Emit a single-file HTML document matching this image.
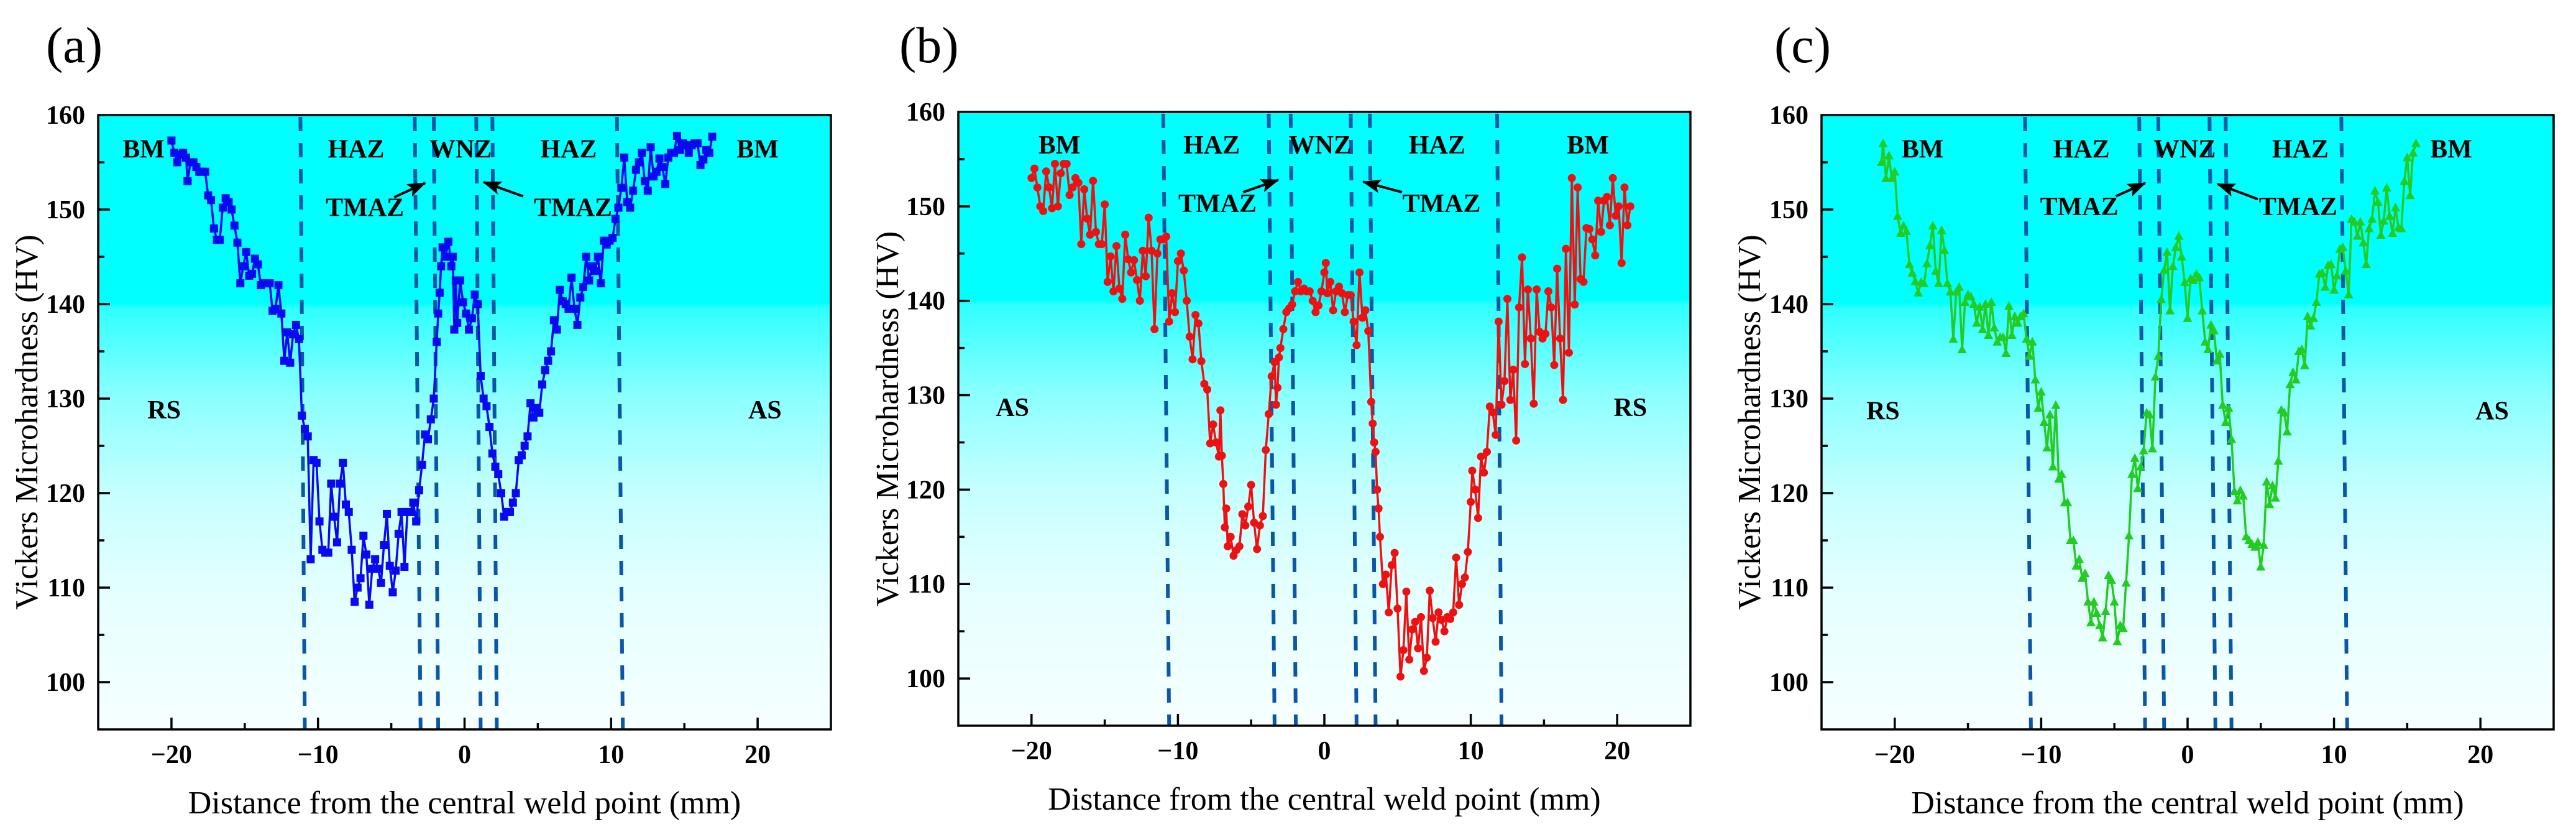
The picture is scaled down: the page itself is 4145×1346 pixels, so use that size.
<!DOCTYPE html>
<html><head><meta charset="utf-8">
<style>
html,body{margin:0;padding:0;background:#fff;}
svg{display:block;}
text{font-family:"Liberation Serif",serif;}
.tk{font-size:42px;font-weight:bold;}
.ann{font-size:42px;font-weight:bold;}
.ttl{font-size:52px;}
.pl{font-size:82px;}
</style></head>
<body>
<svg id="fig" width="4145" height="1346" viewBox="0 0 4145 1346" xmlns="http://www.w3.org/2000/svg">
<defs>
<linearGradient id="bg" x1="0" y1="0" x2="0" y2="1">
<stop offset="0" stop-color="#00ffff"/>
<stop offset="0.305" stop-color="#00ffff"/>
<stop offset="0.315" stop-color="#30ffff"/>
<stop offset="0.46" stop-color="#8cffff"/>
<stop offset="0.615" stop-color="#c6ffff"/>
<stop offset="0.77" stop-color="#e4ffff"/>
<stop offset="1" stop-color="#f7ffff"/>
</linearGradient>
<marker id="ah" markerWidth="30" markerHeight="22" refX="28" refY="11" orient="auto" markerUnits="userSpaceOnUse" viewBox="0 0 30 22">
<path d="M0,0 L30,11 L0,22 L6,11 z" fill="#000"/>
</marker>
</defs>
</svg>
<script>
// ---- data ----
const xTicks = [-20,-10,0,10,20];
const yTicks = [100,110,120,130,140,150,160];
const xA = [-20,-19.8,-19.6,-19.4,-19.2,-19,-18.9,-18.7,-18.5,-18.3,-18.1,-17.9,-17.7,-17.5,-17.3,-17.1,-16.9,-16.7,-16.5,-16.3,-16.1,-15.9,-15.7,-15.5,-15.3,-15.1,-14.9,-14.7,-14.5,-14.3,-14.1,-13.9,-13.7,-13.5,-13.3,-13.1,-12.9,-12.7,-12.5,-12.3,-12.1,-11.9,-11.7,-11.5,-11.3,-11.1,-10.9,-10.7,-10.5,-10.3,-10.1,-9.9,-9.7,-9.5,-9.3,-9.1,-8.9,-8.7,-8.5,-8.3,-8.1,-7.9,-7.7,-7.5,-7.3,-7.1,-6.9,-6.7,-6.5,-6.3,-6.1,-5.9,-5.7,-5.5,-5.3,-5.1,-4.9,-4.7,-4.5,-4.3,-4.1,-3.9,-3.7,-3.5,-3.3,-3.1,-2.9,-2.7,-2.5,-2.3,-2.1,-1.9,-1.8,-1.7,-1.6,-1.5,-1.3,-1.1,-0.9,-0.8,-0.7,-0.6,-0.5,-0.3,-0.1,0.1,0.3,0.5,0.7,0.9,1.1,1.3,1.5,1.7,1.9,2.1,2.3,2.5,2.7,2.9,3.1,3.3,3.5,3.7,3.9,4.1,4.3,4.5,4.7,4.9,5.1,5.3,5.5,5.7,5.9,6.1,6.3,6.5,6.7,6.9,7.1,7.3,7.5,7.7,7.9,8.1,8.3,8.5,8.7,8.9,9.1,9.3,9.5,9.7,9.9,10.1,10.3,10.5,10.7,10.9,11.1,11.3,11.5,11.7,11.9,12.1,12.3,12.5,12.7,12.9,13.1,13.3,13.5,13.7,13.9,14.1,14.3,14.5,14.7,14.9,15.1,15.3,15.5,15.7,15.9,16.1,16.3,16.5,16.7,16.9];
const yA = [157.3,156,155,155.8,156,155.5,153,155,155,154.5,154,154,154,151.5,151,148,146.8,146.8,150.2,151.2,150.8,150,148.3,146.5,142.2,144,145.5,143,143.2,144.8,144.2,142,142.2,142.2,142.2,139.3,139.5,142,139,134,137,133.8,136.8,137.8,136.3,128.2,126.8,126,113,123.5,123.2,117,114,113.7,113.7,121,117.5,114.8,121,123.2,118.8,118,114,108.5,110,111,115.5,113.5,108.2,112,113,112,110.5,114.5,117.8,112.3,109.5,111.8,115.7,118,112.2,118,118,119,117,120.3,123,126.2,125.7,127.8,130,136,139,141.2,144,146,145,146.6,144,145,137.3,142.5,138,142.5,140.2,139,137.3,138.5,141,140,132.4,130,129.2,127,124.2,122.8,122,120,117.5,118,118,119,120,123.5,124,125,126,129.5,128,129,128.5,131.5,133,134,135,138.3,137.3,141.5,140.3,140,139.5,142.8,139.5,137.8,140.7,141.8,145,142.5,144,143.5,145,142.2,146.7,146.3,146.7,147,149,150.2,152.3,155.5,150.8,150.2,152,154.2,155,156,153,152,156.6,153.5,154,155.4,154.5,152.7,155.5,156,156,157.8,156.3,157,156.8,156,156.8,157,157,154.7,155.3,156.3,156,157.7];
const xB = [-20,-19.8,-19.6,-19.4,-19.2,-19,-18.8,-18.6,-18.4,-18.2,-18,-17.8,-17.6,-17.4,-17.2,-17,-16.8,-16.6,-16.4,-16.2,-16,-15.8,-15.6,-15.4,-15.2,-15,-14.8,-14.6,-14.4,-14.2,-14,-13.8,-13.6,-13.4,-13.2,-13,-12.8,-12.6,-12.4,-12.2,-12,-11.8,-11.6,-11.4,-11.2,-11,-10.8,-10.6,-10.4,-10.2,-10,-9.8,-9.6,-9.4,-9.2,-9,-8.8,-8.6,-8.4,-8.2,-8,-7.8,-7.6,-7.4,-7.2,-7.1,-7,-6.9,-6.8,-6.7,-6.6,-6.4,-6.2,-6,-5.8,-5.6,-5.4,-5.2,-5,-4.8,-4.6,-4.4,-4.2,-4,-3.8,-3.6,-3.4,-3.3,-3.2,-3.1,-3,-2.8,-2.6,-2.4,-2.2,-2,-1.8,-1.6,-1.4,-1.2,-1,-0.8,-0.6,-0.4,-0.2,0,0.1,0.2,0.4,0.6,0.8,1,1.2,1.4,1.6,1.8,2,2.2,2.4,2.6,2.8,3,3.2,3.3,3.4,3.5,3.6,3.7,3.8,4,4.2,4.4,4.6,4.8,5,5.2,5.4,5.6,5.8,6,6.2,6.4,6.6,6.8,7,7.2,7.4,7.6,7.8,8,8.2,8.4,8.6,8.8,9,9.2,9.4,9.6,9.8,10,10.1,10.3,10.5,10.7,10.9,11.1,11.3,11.5,11.7,11.9,12.1,12.3,12.5,12.7,12.9,13.1,13.3,13.5,13.7,13.9,14.1,14.3,14.5,14.7,14.9,15.1,15.3,15.5,15.7,15.9,16.1,16.3,16.5,16.7,16.9,17.1,17.3,17.5,17.7,17.9,18.1,18.3,18.5,18.7,18.9,19.1,19.3,19.5,19.7,19.9,20.1,20.3,20.5,20.7,20.9];
const yB = [153,154,152,150,149.5,153.7,152,149.8,154.5,150,153.5,154.5,154.5,151.2,152,153,152.5,146,151.8,148.7,147,152.7,147.3,146,146,150.2,142,144.7,141,145.8,141.3,140.2,147,144.4,143,144.3,142.2,140,145.3,142.6,148.8,145.3,137,145,146.5,146.5,146.8,137.8,140.8,138.8,144.2,145,143.2,140,136.2,133.8,138.5,137.6,133.6,131.2,130.6,124.9,126.9,125,123.5,128.4,123.6,120.6,116,118,114,115,113,113.6,114,117.4,116.2,118.2,120.5,116.5,113.7,116.2,117.2,124.2,128,132,133.5,129,130.8,134,135,137,138.8,139.2,139.6,141,142,141,141.3,141,141,140,138.8,139.5,141,143,144,140.8,142,139,141,141.5,140.8,138.8,140.6,140.6,137.8,135.3,143,138.2,139,136.8,129.3,127,125,124,120,118,115,110,111,107,112,113.3,107.4,100.2,103,109.2,102,105.2,106,103.2,106.5,100.8,102.2,109.3,106.4,103.9,107,106.2,105,106.5,106.3,107,112.8,107.8,110,110.7,113.4,118.7,122,120,117,123.5,121.8,124,128.8,128.2,125.8,137.8,129,131.5,140.2,129.5,132.7,125.2,139.3,144.6,133.3,141.2,136,129.1,141.2,136.7,136,136.5,141,139.3,133.2,143.4,136,129.5,145.5,134.5,153,139.6,152,142.3,142,147.7,147.6,146.5,144.8,150.6,147.3,150.6,151,148,153,149,150,144,152,148,150];
const xC = [-20.9,-20.8,-20.6,-20.4,-20.2,-20,-19.8,-19.6,-19.4,-19.2,-19,-18.8,-18.6,-18.4,-18.2,-18,-17.8,-17.6,-17.4,-17.2,-17,-16.8,-16.6,-16.4,-16.2,-16,-15.8,-15.6,-15.4,-15.2,-15,-14.8,-14.6,-14.4,-14.2,-14,-13.8,-13.6,-13.4,-13.2,-13,-12.8,-12.6,-12.4,-12.2,-12,-11.8,-11.6,-11.4,-11.2,-11,-10.8,-10.6,-10.4,-10.2,-10,-9.8,-9.6,-9.4,-9.2,-9,-8.8,-8.6,-8.4,-8.2,-8,-7.8,-7.6,-7.4,-7.2,-7,-6.8,-6.6,-6.4,-6.2,-6,-5.8,-5.6,-5.4,-5.2,-5,-4.8,-4.6,-4.4,-4.2,-4,-3.8,-3.6,-3.4,-3.2,-3,-2.8,-2.6,-2.4,-2.2,-2,-1.8,-1.6,-1.4,-1.2,-1,-0.8,-0.6,-0.4,-0.2,0,0.2,0.4,0.6,0.8,1,1.2,1.4,1.6,1.8,2,2.2,2.4,2.6,2.8,3,3.2,3.4,3.6,3.8,4,4.2,4.4,4.6,4.8,5,5.2,5.4,5.6,5.8,6,6.2,6.4,6.6,6.8,7,7.2,7.4,7.6,7.8,8,8.2,8.4,8.6,8.8,9,9.2,9.4,9.6,9.8,10,10.2,10.4,10.6,10.8,11,11.2,11.4,11.6,11.8,12,12.2,12.4,12.6,12.8,13,13.2,13.4,13.6,13.8,14,14.2,14.4,14.6,14.8,15,15.2,15.4,15.6];
const yC = [155,157,153.3,155.7,153.3,154,149.3,147.5,148.3,147.7,144.2,143.3,142.4,141.2,142.3,142.2,144.3,146.2,148.3,143.5,142.2,147.8,145.7,142.2,141.3,136.3,141.3,141.8,135.2,140.2,141,140.8,140,138,139.7,137.3,140,136.7,140.2,137.5,136,136.5,136.5,134.8,139.8,136.7,138.7,138,138.7,139,136.3,134.5,136,132,129,130.7,127.5,124.8,128.3,122.8,129.3,121.5,122,119,119,115,115,112.3,113,111,111.5,108.5,106.3,108.5,107.3,106,104.7,107.5,111.3,110.8,108.5,104.3,106,105.7,110.5,115.5,122,123.7,120.5,122.8,124.5,128.5,128.3,124.7,132.3,134.5,140.5,143.6,145.5,139.3,144,146,147.2,145,142.3,138.5,142.7,142.5,143.2,142.8,139.3,136,135.2,137.8,137.2,134,134.7,129.3,127.5,129,125.7,120.2,119.2,120.3,119.7,115.4,115,114.6,114.3,114.8,112.2,114.5,121.2,118.8,120.8,119.5,123.4,128.8,128.5,126.5,131.5,132.8,132,135,135.2,133.5,138.7,137.7,138.5,140.2,143.2,143.3,141.8,144.1,144.2,141.5,143,145.8,146,143.5,141,149,148.7,147.2,148.7,146.5,144.2,148,149,152,150.8,147.3,148.8,152.3,149.3,147.5,150.2,148.1,148,153,155.5,151.5,156,157];
// zone boundaries (top x, bottom x) in mm
const zonesATop = [-11.2,-3.4,-2.1,0.8,1.9,10.4];
const zonesABot = [-10.9,-3.0,-1.8,1.1,2.2,10.8];
const zonesBTop = [-11.0,-3.8,-2.3,1.8,3.1,11.8];
const zonesBBot = [-10.6,-3.4,-1.95,2.2,3.5,12.1];
const zonesCTop = [-11.1,-3.3,-2.0,1.5,2.6,10.5];
const zonesCBot = [-10.7,-2.9,-1.6,1.9,3.0,10.9];

// ---- drawing ----
const NS = "http://www.w3.org/2000/svg";
const svg = document.getElementById('fig');
function mk(tag, attrs, parent){
  const e = document.createElementNS(NS, tag);
  for (const k in attrs) e.setAttribute(k, attrs[k]);
  (parent||svg).appendChild(e);
  return e;
}
function txt(str, attrs, parent){ const t = mk('text', attrs, parent); t.textContent = str; return t; }

function panel(p){
  const g = mk('g', {});
  
  
  const L=p.left, R=p.right, T=p.top, B=p.bottom;
  const sx = v => L + (v + 25) / 50 * (R - L);
  const sy = v => B - (v - 95) / 65 * (B - T);
  const bg = mk('rect', {x:L, y:T, width:R-L, height:B-T, fill:'url(#bg)'}, g);
  
  
  for (let i=0;i<p.zt.length;i++){
    const ln = mk('line', {x1:sx(p.zt[i]), y1:T+3, x2:sx(p.zb[i]), y2:B, stroke:'#0a57a6', 'stroke-width':6, 'stroke-dasharray':'23 19'}, g);
    
    
  }
  const pts = p.xs.map((x,i)=> sx(x).toFixed(1)+','+sy(p.ys[i]).toFixed(1)).join(' ');
  const pl = mk('polyline', {points:pts, fill:'none', stroke:p.color, 'stroke-width':3.5, 'stroke-linejoin':'round'}, g);
  
  
  p.xs.forEach((x,i)=>{
    const cx = sx(x), cy = sy(p.ys[i]);
    let m;
    if (p.marker==='square') m = mk('rect', {x:cx-6.5, y:cy-6.5, width:13, height:13, fill:p.color}, g);
    else if (p.marker==='circle') m = mk('circle', {cx:cx, cy:cy, r:6.5, fill:p.color}, g);
    else m = mk('polygon', {points:`${cx},${cy-8} ${cx-7.5},${cy+6} ${cx+7.5},${cy+6}`, fill:p.color}, g);
    
    
  });
  p.ann.forEach(a=>{
    const t = txt(a[0], {x:sx(a[1]), y:sy(a[2]), class:'ann', 'text-anchor':'middle'}, g);
    
    
  });
  p.arrows.forEach(a=>{
    const ar = mk('line', {x1:sx(a[0]), y1:sy(a[1]), x2:sx(a[2]), y2:sy(a[3]), stroke:'#000', 'stroke-width':4, 'marker-end':'url(#ah)'}, g);
    
    
  });
  const fr = mk('rect', {x:L, y:T, width:R-L, height:B-T, fill:'none', stroke:'#000', 'stroke-width':3.5}, g);
  
  
  for (let v=-25; v<=25; v+=5){
    const major = v%10===0;
    if (v===-25||v===25) continue;
    mk('line', {x1:sx(v), y1:B, x2:sx(v), y2:B-(major?19:10), stroke:'#000', 'stroke-width':3.5}, g);
  }
  xTicks.forEach(v=>{
    const t = txt(v<0?'\u2212'+Math.abs(v):String(v), {x:sx(v), y:B+54, class:'tk', 'text-anchor':'middle'}, g);
    
    
  });
  for (let v=100; v<160; v+=5){
    const major = v%10===0;
    mk('line', {x1:L, y1:sy(v), x2:L+(major?19:10), y2:sy(v), stroke:'#000', 'stroke-width':3.5}, g);
  }
  yTicks.forEach(v=>{
    const t = txt(String(v), {x:L-21, y:sy(v)+14, class:'tk', 'text-anchor':'end'}, g);
    
    
  });
  const xt = txt('Distance from the central weld point (mm)', {x:(L+R)/2, y:B+135, class:'ttl', 'text-anchor':'middle'}, g);
  
  
  const cy = (T+B)/2;
  const yt = txt('Vickers Microhardness (HV)', {x:p.ytx, y:cy, class:'ttl', 'text-anchor':'middle', transform:`rotate(-90 ${p.ytx} ${cy})`}, g);
  
  
  const lb = txt('('+p.id+')', {x:p.lx, y:100, class:'pl'}, g);
  
  
}

panel({id:'a', left:158, right:1337, top:185, bottom:1173, ytx:60, lx:74, color:'#0a0af0', marker:'square',
  xs:xA, ys:yA, zt:zonesATop, zb:zonesABot,
  ann:[['BM',-21.9,155.5],['HAZ',-7.4,155.5],['WNZ',-0.27,155.5],['HAZ',7.1,155.5],['BM',20.0,155.5],['TMAZ',-6.8,149.3],['TMAZ',7.4,149.3],['RS',-20.5,127.9],['AS',20.5,127.9]],
  arrows:[[-4.8,151.3,-2.7,152.8],[4.0,151.4,1.3,152.9]]});
panel({id:'b', left:1542, right:2720, top:180, bottom:1167, ytx:1445, lx:1447, color:'#ee1111', marker:'circle',
  xs:xB, ys:yB, zt:zonesBTop, zb:zonesBBot,
  ann:[['BM',-18.1,155.6],['HAZ',-7.7,155.6],['WNZ',-0.3,155.6],['HAZ',7.7,155.6],['BM',18.0,155.6],['TMAZ',-7.3,149.4],['TMAZ',8.0,149.4],['AS',-21.3,127.8],['RS',20.9,127.8]],
  arrows:[[-5.55,151.5,-3.15,152.8],[5.3,151.5,2.65,152.6]]});
panel({id:'c', left:2931, right:4109, top:185, bottom:1173, ytx:2832, lx:2855, color:'#22cc22', marker:'triangle',
  xs:xC, ys:yC, zt:zonesCTop, zb:zonesCBot,
  ann:[['BM',-18.1,155.5],['HAZ',-7.25,155.5],['WNZ',-0.2,155.5],['HAZ',7.7,155.5],['BM',18.0,155.5],['TMAZ',-7.4,149.4],['TMAZ',7.55,149.4],['RS',-20.8,127.8],['AS',20.8,127.8]],
  arrows:[[-4.9,151.4,-2.9,152.8],[4.8,151.1,2.05,152.7]]});
</script>
</body></html>
